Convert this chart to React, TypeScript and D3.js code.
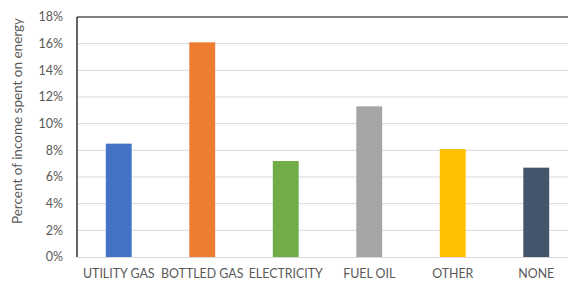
import { useEffect, useRef } from 'react';
import * as d3 from 'd3';

const categories = ['UTILITY GAS', 'BOTTLED GAS', 'ELECTRICITY', 'FUEL OIL', 'OTHER', 'NONE'];
const values = [8.5, 16.1, 7.2, 11.3, 8.1, 6.7];
const colors = ['#4472c4', '#ed7d31', '#70ad47', '#a5a5a5', '#ffc000', '#44546a'];
const yTicks = [0, 2, 4, 6, 8, 10, 12, 14, 16, 18];

export default function App() {
  const svgRef = useRef<SVGSVGElement>(null);

  useEffect(() => {
    const width = 568;
    const height = 283;
    const left = 77, top = 17, bottom = 257;

    const svg = d3.select(svgRef.current);
    svg.selectAll('*').remove();
    svg.attr('width', width).attr('height', height);

    const x = d3.scaleBand<string>()
      .domain(categories)
      .range([left, left + 6 * 83.5])
      .paddingInner(0.69)
      .paddingOuter(0.345);

    const y = d3.scaleLinear().domain([0, 18]).range([bottom, top]);

    // gridlines
    svg.append('g')
      .selectAll('line')
      .data(yTicks.filter(t => t > 0 && t < 18))
      .enter()
      .append('line')
      .attr('x1', left)
      .attr('x2', width)
      .attr('y1', d => y(d))
      .attr('y2', d => y(d))
      .attr('stroke', '#d9d9d9')
      .attr('stroke-width', 1);

    // bars
    svg.append('g')
      .selectAll('rect')
      .data(values)
      .enter()
      .append('rect')
      .attr('x', (d, i) => x(categories[i])!)
      .attr('width', x.bandwidth())
      .attr('y', d => y(d))
      .attr('height', d => bottom - y(d))
      .attr('fill', (d, i) => colors[i]);

    // bottom axis
    svg.append('line')
      .attr('x1', left).attr('x2', width)
      .attr('y1', bottom + 0.5).attr('y2', bottom + 0.5)
      .attr('stroke', '#d9d9d9');

    // top border and left axis
    svg.append('line')
      .attr('x1', left).attr('x2', width)
      .attr('y1', y(18)).attr('y2', y(18))
      .attr('stroke', '#000').attr('stroke-width', 1.2);
    svg.append('line')
      .attr('x1', left).attr('x2', left)
      .attr('y1', y(18)).attr('y2', bottom)
      .attr('stroke', '#000').attr('stroke-width', 1.2);

    // y tick labels
    svg.append('g')
      .selectAll('text')
      .data(yTicks)
      .enter()
      .append('text')
      .attr('x', 63)
      .attr('y', d => y(d))
      .attr('dy', '0.35em')
      .attr('text-anchor', 'end')
      .attr('font-family', 'Lato, sans-serif')
      .attr('font-size', 12.5)
      .attr('fill', '#595959')
      .text(d => `${d}%`);

    // category labels
    svg.append('g')
      .selectAll('text')
      .data(categories)
      .enter()
      .append('text')
      .attr('x', d => x(d)! + x.bandwidth() / 2)
      .attr('y', 274)
      .attr('dy', '0.35em')
      .attr('text-anchor', 'middle')
      .attr('font-family', 'Lato, sans-serif')
      .attr('font-size', 12.4)
      .attr('fill', '#595959')
      .text(d => d);

    // y axis title
    svg.append('text')
      .attr('transform', 'translate(17, 121) rotate(-90)')
      .attr('dy', '0.35em')
      .attr('text-anchor', 'middle')
      .attr('font-family', 'Lato, sans-serif')
      .attr('font-size', 13.5)
      .attr('fill', '#595959')
      .text('Percent of income spent on energy');
  }, []);

  return (
    <div style={{ position: 'fixed', top: 0, left: 0, background: '#fff' }}>
      <svg ref={svgRef}></svg>
    </div>
  );
}
